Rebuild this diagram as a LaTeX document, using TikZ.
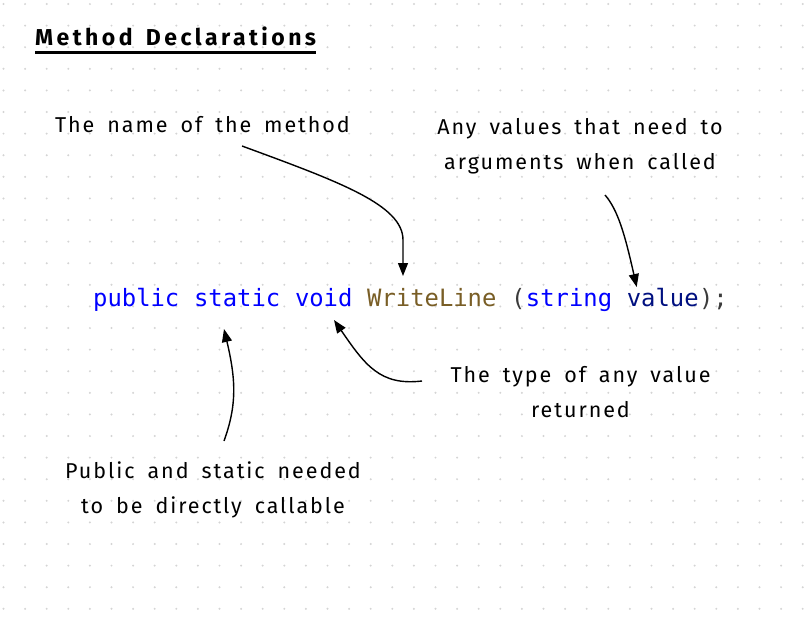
\documentclass[tikz,border=0pt]{standalone}
\usepackage{fontspec}
\setmainfont{Fira Sans}[LetterSpace=9, WordSpace=1.7]
\newfontfamily\titlefont{Fira Sans}[LetterSpace=15, WordSpace=1.5]
\newfontfamily\codefont{DejaVu Sans Mono}
\usetikzlibrary{positioning,arrows.meta}

\definecolor{kwblue}{HTML}{0000FF}
\definecolor{fnbrown}{HTML}{795E26}
\definecolor{argnavy}{HTML}{001080}
\definecolor{punctgray}{HTML}{3B3B3B}
\definecolor{griddot}{HTML}{D4D4D4}

\tikzset{
	note/.style={inner sep=0pt, align=center, font=\fontsize{21.5}{35}\selectfont},
	code/.style={inner sep=0pt, font=\codefont\fontsize{23.85}{28}\selectfont},
	pointer/.style={line width=1.4pt, -{Triangle[length=13pt,width=10pt]}}
}

\begin{document}
\begin{tikzpicture}[x=1pt, y=-1pt]
	\useasboundingbox (0,0) rectangle (807,627);
	\fill[white] (0,0) rectangle (807,627);
	
	% dotted paper
	\foreach \i in {0,...,37}
		\foreach \j in {0,...,28}
			\fill[griddot] (3.5+21.6*\i, 4+21.6*\j) circle (1.1pt);
	
	\node[anchor=base west, inner sep=0pt, font=\titlefont\bfseries\fontsize{23}{28}\selectfont] (title) at (35,45) {Method Declarations};
	\draw[line width=2.6pt] ([yshift=-7.5pt]title.base west) -- ([yshift=-7.5pt]title.base east);
	
	% the code line
	\node[code, anchor=base west, text=kwblue] (kwpublic) at (93,306) {public};
	\node[code, base right=14.36pt of kwpublic, text=kwblue] (kwstatic) {static};
	\node[code, base right=14.36pt of kwstatic, text=kwblue] (kwvoid) {void};
	\node[code, base right=14.36pt of kwvoid, text=fnbrown] (fname) {WriteLine};
	\node[code, base right=14.36pt of fname, text=punctgray] (lparen) {(};
	\node[code, base right=0pt of lparen, text=kwblue] (kwstring) {string};
	\node[code, base right=14.36pt of kwstring, text=argnavy] (argval) {value};
	\node[code, base right=0pt of argval, text=punctgray] (tail) {);};
	
	% the notes
	\node[note, anchor=base] (namenote) at (202.5,132) {The name of the method};
	\node[note] (argnote) at (580,146) {Any values that need to\\arguments when called};
	\node[note] (typenote) at (580.5,392) {The type of any value\\returned};
	\node[note] (accessnote) at (213,490) {Public and static needed\\to be directly callable};
	
	\coordinate (nametail) at (242,146);
	\coordinate (argtail) at (605,195);
	\coordinate (argtip) at (636.7,287);
	\coordinate (typetail) at (422,381);
	\coordinate (typetip) at (334,320);
	\coordinate (accesstail) at (224,441);
	\coordinate (accesstip) at (224,329);
	
	\draw[pointer] (nametail) .. controls (340,182) and (403,205) .. (403,240) -- (403,276);
	\draw[pointer] (argtail) .. controls (618,210) and (625,235) .. (argtip);
	\draw[pointer] (typetail) .. controls (380,386) and (365,365) .. (typetip);
	\draw[pointer] (accesstail) .. controls (237,405) and (236,380) .. (accesstip);
\end{tikzpicture}
\end{document}
